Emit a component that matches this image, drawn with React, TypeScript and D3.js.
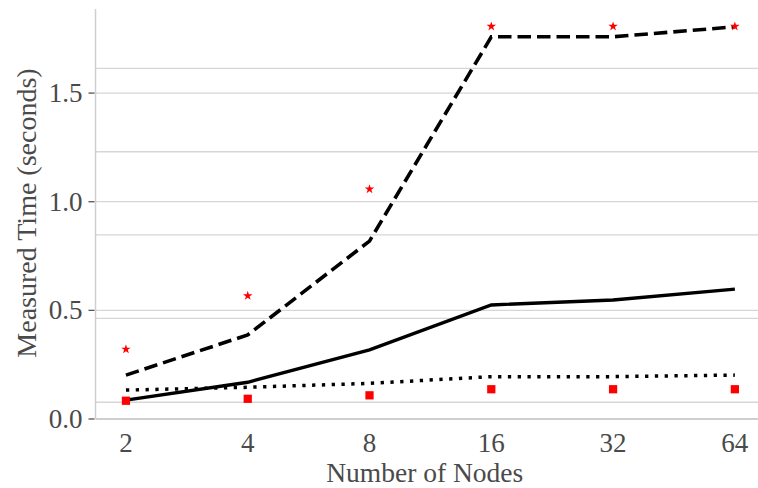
import React from "react";
import * as d3 from "d3";

const nodes = [2, 4, 8, 16, 32, 64];
const dashedSeries = [0.202, 0.387, 0.819, 1.759, 1.759, 1.805];
const solidSeries = [0.087, 0.169, 0.318, 0.525, 0.548, 0.598];
const dottedSeries = [0.133, 0.146, 0.164, 0.195, 0.195, 0.202];
const starPoints = [0.321, 0.567, 1.058, 1.807, 1.807, 1.807];
const squarePoints = [0.084, 0.093, 0.109, 0.137, 0.137, 0.137];
const yTicks = [0, 0.5, 1.0, 1.5];
const extraGrid = [0.077, 0.463, 0.847, 1.23, 1.614];

const width = 758;
const height = 488;
const margin = { top: 9, right: 0, bottom: 69, left: 95.5 };
const font = "'Liberation Serif', 'Times New Roman', serif";
const textColor = "#4a4a4a";

const App = () => {
  const x = d3
    .scaleLog()
    .base(2)
    .domain([Math.pow(2, 0.75), Math.pow(2, 6.19)])
    .range([margin.left, width - margin.right]);

  const y = d3
    .scaleLinear()
    .domain([0, 1.887])
    .range([height - margin.bottom, margin.top]);

  const line = d3
    .line<number>()
    .x((d, i) => x(nodes[i]))
    .y((d) => y(d));

  const star = d3.symbol().type(d3.symbolStar).size(28)();
  const square = d3.symbol().type(d3.symbolSquare).size(68)();

  const x0 = margin.left;
  const x1 = width - margin.right;

  return (
    <svg
      width={width}
      height={height}
      style={{ position: "absolute", left: 0, top: 0, background: "white" }}
    >
      {/* gridlines */}
      {extraGrid.concat(yTicks.slice(1)).map((v, i) => (
        <line
          key={"g" + i}
          x1={x0}
          x2={x1}
          y1={y(v)}
          y2={y(v)}
          stroke="#d6d6d6"
          strokeWidth={1.3}
        />
      ))}

      {/* axes lines */}
      <line x1={x0} x2={x0} y1={margin.top} y2={y(0)} stroke="#cfcfcf" strokeWidth={1.5} />
      <line x1={x0} x2={x1} y1={y(0)} y2={y(0)} stroke="#cfcfcf" strokeWidth={1.8} />

      {/* y ticks */}
      {yTicks.map((v) => (
        <g key={"yt" + v}>
          <line x1={x0 - 7} x2={x0 - 1} y1={y(v)} y2={y(v)} stroke="#555" strokeWidth={1.3} />
          <text
            x={x0 - 13}
            y={y(v) + 9}
            textAnchor="end"
            fontFamily={font}
            fontSize={27}
            fill={textColor}
          >
            {v.toFixed(1)}
          </text>
        </g>
      ))}

      {/* x tick labels */}
      {nodes.map((n) => (
        <text
          key={"xt" + n}
          x={x(n)}
          y={452}
          textAnchor="middle"
          fontFamily={font}
          fontSize={27}
          fill={textColor}
        >
          {n}
        </text>
      ))}

      {/* axis titles */}
      <text
        x={(x0 + x1) / 2 - 2}
        y={482}
        textAnchor="middle"
        fontFamily={font}
        fontSize={27.5}
        fill={textColor}
      >
        Number of Nodes
      </text>
      <text
        transform={`translate(36, ${213}) rotate(-90)`}
        textAnchor="middle"
        fontFamily={font}
        fontSize={28}
        fill={textColor}
      >
        Measured Time (seconds)
      </text>

      {/* lines */}
      <path
        d={line(dashedSeries) || ""}
        fill="none"
        stroke="black"
        strokeWidth={3.6}
        strokeDasharray="13.5,6"
      />
      <path d={line(solidSeries) || ""} fill="none" stroke="black" strokeWidth={3.4} />
      <path
        d={line(dottedSeries) || ""}
        fill="none"
        stroke="black"
        strokeWidth={3.5}
        strokeDasharray="3.3,6.5"
      />

      {/* points */}
      {starPoints.map((v, i) => (
        <path
          key={"s" + i}
          d={star || ""}
          transform={`translate(${x(nodes[i])},${y(v)})`}
          fill="red"
        />
      ))}
      {squarePoints.map((v, i) => (
        <path
          key={"q" + i}
          d={square || ""}
          transform={`translate(${x(nodes[i])},${y(v)})`}
          fill="red"
        />
      ))}
    </svg>
  );
};

export default App;
